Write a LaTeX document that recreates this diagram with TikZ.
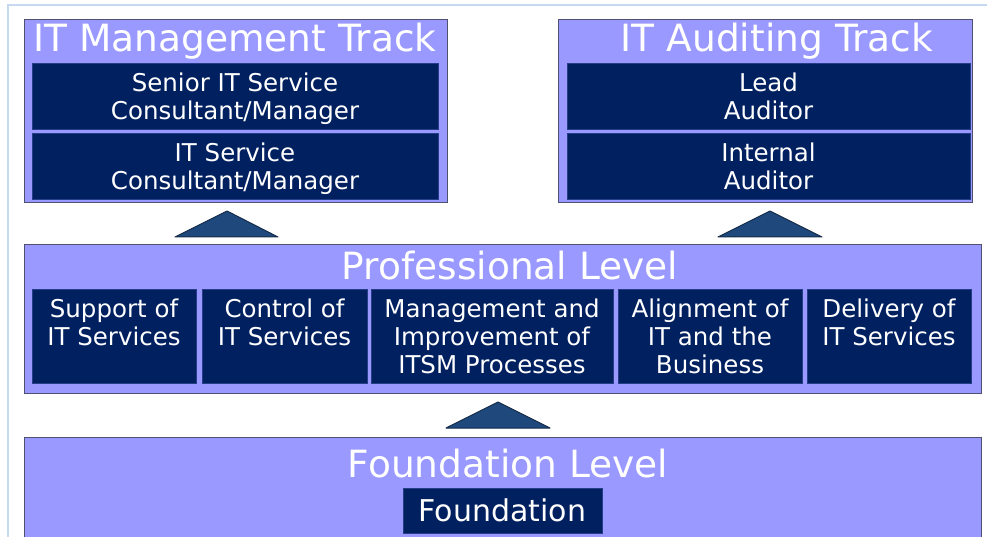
\documentclass[tikz,border=0pt]{standalone}
\usepackage{fontspec}
\setmainfont{DejaVu Sans}
\usetikzlibrary{positioning}

\definecolor{lavender}{RGB}{153,153,255}
\definecolor{navyblue}{RGB}{0,32,96}
\definecolor{edgegray}{RGB}{80,80,112}
\definecolor{steelblue}{RGB}{31,73,125}
\definecolor{framecol}{RGB}{198,217,241}

\begin{document}
\begin{tikzpicture}%
    [x = 1pt, y = -1pt,
     track/.style   = {draw=edgegray, fill=lavender, line width=1pt, anchor=north west, inner sep=0pt, outer sep=0pt},
     role/.style    = {draw=navyblue!75!lavender, fill=navyblue, text=white, align=center, anchor=north west,
                       inner sep=0pt, outer sep=0pt, line width=0.8pt, text depth=0pt, font=\fontsize{24.5}{28}\selectfont},
     heading/.style = {text=white, font=\fontsize{37.5}{40}\selectfont},
     uparrow/.style = {fill=steelblue, draw=steelblue!60!black, line width=1pt, line join=round}]
    \clip (0,0) rectangle (987,537);
    \fill[white] (0,0) rectangle (987,537);
    \draw[framecol, line width=2pt] (8,560) -- (8,5) -- (1000,5);

    % the two tracks
    \node[track, minimum width=423pt, minimum height=183pt] (mgmt) at (24,20) {};
    \node[heading] (mgmttitle) at (235,41) {IT Management Track};
    \node[role, minimum width=406pt, minimum height=66pt] (senior) at (32,63) {Senior IT Service\\Consultant/Manager};
    \node[role, minimum width=406pt, minimum height=66pt] (consult) at (32,133) {IT Service\\Consultant/Manager};

    \node[track, minimum width=414pt, minimum height=183pt] (audit) at (558,20) {};
    \node[heading] (audittitle) at (777,41) {IT Auditing Track};
    \node[role, minimum width=403pt, minimum height=66pt] (lead) at (567,63) {Lead\\Auditor};
    \node[role, minimum width=403pt, minimum height=66pt] (internal) at (567,133) {Internal\\Auditor};

    \draw[uparrow] (175,237) -- (227,211) -- (278,237) -- cycle;
    \draw[uparrow] (718,237) -- (770,211) -- (822,237) -- cycle;

    % professional level
    \node[track, minimum width=957pt, minimum height=148pt] (prof) at (24,245) {};
    \node[heading] (proftitle) at (510,266) {Professional Level};
    \node[role, minimum width=164pt, minimum height=94pt] (support) at (32,289) {Support of\\IT Services\\\phantom{I}};
    \node[role, minimum width=165pt, minimum height=94pt] (control) at (202,289) {Control of\\IT Services\\\phantom{I}};
    \node[role, minimum width=242pt, minimum height=94pt] (improve) at (371,289) {Management and\\Improvement of\\ITSM Processes};
    \node[role, minimum width=184pt, minimum height=94pt] (align) at (618,289) {Alignment of\\IT and the\\Business};
    \node[role, minimum width=164pt, minimum height=94pt] (delivery) at (807,289) {Delivery of\\IT Services\\\phantom{I}};

    \draw[uparrow] (446,428) -- (498,402) -- (550,428) -- cycle;

    % foundation level
    \node[track, minimum width=957pt, minimum height=130pt] (found) at (24,437) {};
    \node[heading] (foundtitle) at (508,464) {Foundation Level};
    \node[role, minimum width=199pt, minimum height=45pt, font=\fontsize{30}{34}\selectfont] (basic) at (403,488) {Foundation};
\end{tikzpicture}
\end{document}
